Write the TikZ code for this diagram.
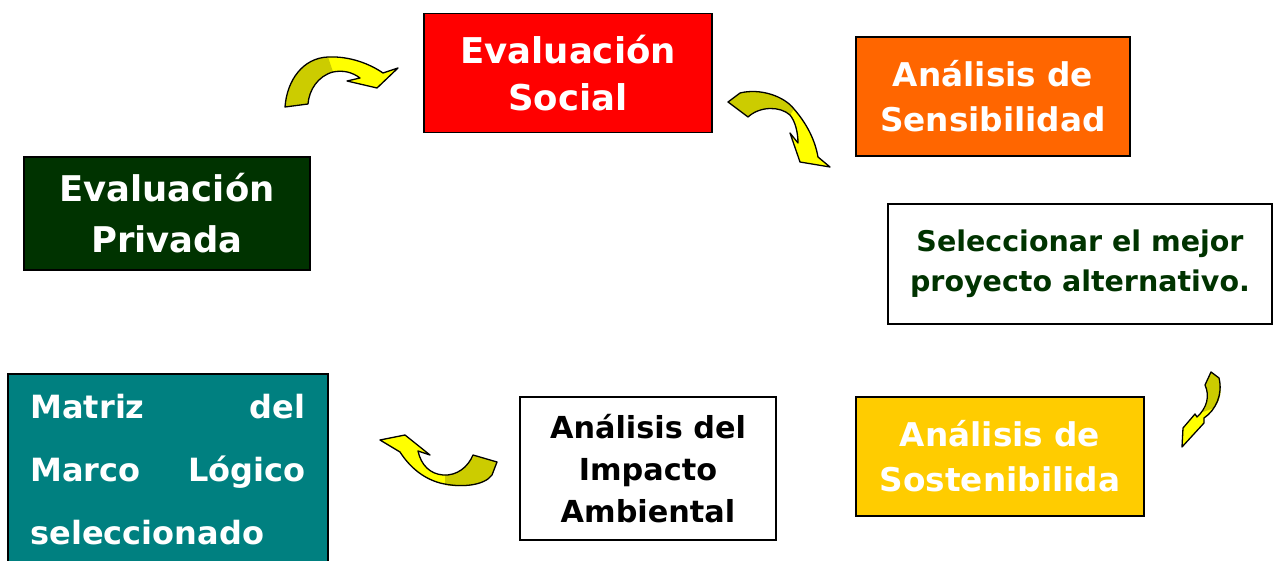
\documentclass[tikz,border=0pt]{standalone}
\usepackage{fontspec}
\setmainfont{DejaVu Sans}
\definecolor{evred}{HTML}{FF0000}
\definecolor{evorange}{HTML}{FF6600}
\definecolor{evdkgreen}{HTML}{003300}
\definecolor{evteal}{HTML}{008080}
\definecolor{evgold}{HTML}{FFCC00}
\definecolor{arrlight}{HTML}{FFFF00}
\definecolor{arrdark}{HTML}{CCCC00}
\newcommand\arrOneOut{(285,107) .. controls (287,80) and (303,58) .. (328,57) .. controls (350,56) and (370,64) .. (383,73) -- (398,68) -- (377,88) -- (347,81) -- (360,78) .. controls (352,72) and (343,70) .. (333,72) .. controls (318,76) and (309,90) .. (308,104) -- cycle}
\newcommand\arrOneDark{(285,107) .. controls (287,80) and (303,58) .. (328,57) -- (333,72) .. controls (318,76) and (309,90) .. (308,104) -- cycle}
\newcommand\arrTwoOut{(728,102) -- (740,93) .. controls (760,88) and (784,96) .. (794,109) .. controls (807,124) and (815,140) .. (818,157) -- (830,167) -- (800,162) -- (790,133) -- (798,143) .. controls (798,132) and (795,121) .. (790,115) .. controls (780,106) and (760,106) .. (748,117) -- cycle}
\newcommand\arrTwoDark{(728,102) -- (740,93) .. controls (760,88) and (784,96) .. (794,109) -- (790,115) .. controls (780,106) and (760,106) .. (748,117) -- cycle}
\newcommand\arrThreeOut{(1211,372) -- (1219,378) .. controls (1223,394) and (1216,410) .. (1204,418) -- (1204,423) -- (1182,447) -- (1183,428) -- (1195,414) -- (1197,417) .. controls (1207,408) and (1210,396) .. (1205,385) -- cycle}
\newcommand\arrThreeDark{(1211,372) -- (1219,378) .. controls (1223,394) and (1219,402) .. (1214,408) -- (1203,412) .. controls (1208,404) and (1209,394) .. (1205,385) -- cycle}
\newcommand\arrFourOut{(380,440) -- (405,435) -- (430,455) -- (418,451) .. controls (421,465) and (430,474) .. (443,475) .. controls (457,476) and (468,467) .. (473,455) -- (497,462) -- (492,475) .. controls (484,486) and (460,488) .. (440,483) .. controls (422,478) and (409,466) .. (400,452) -- cycle}
\newcommand\arrFourDark{(445,475) .. controls (458,475) and (468,467) .. (473,455) -- (497,462) -- (492,475) .. controls (484,486) and (462,488) .. (445,485) -- cycle}
\begin{document}
\begin{tikzpicture}[x=1pt,y=-1pt,
  box/.style={draw=black, line width=1.4pt, inner sep=0pt, align=center},
  arrfill/.style={fill=arrlight},
  arrshade/.style={fill=arrdark},
  arredge/.style={draw=black, line width=1.3pt, line join=round}]
\useasboundingbox (0,0) rectangle (1278,561);
\clip (0,0) rectangle (1278,561);
\fill[white] (0,0) rectangle (1278,561);

\node[box, fill=evred, text=white, minimum width=288, minimum height=119,
  font=\bfseries\fontsize{35.5}{47}\selectfont] (social) at (568,73) {Evaluación\\Social};
\node[box, fill=evorange, text=white, minimum width=274, minimum height=119,
  font=\bfseries\fontsize{32.7}{45}\selectfont] (sensib) at (993,96.5) {Análisis de\\Sensibilidad};
\node[box, fill=white, text=evdkgreen, minimum width=384, minimum height=120,
  font=\bfseries\fontsize{28.5}{40}\selectfont] (selec) at (1080,264) {Seleccionar el mejor\\proyecto alternativo.};
\node[box, fill=evdkgreen, text=white, minimum width=286, minimum height=113,
  font=\bfseries\fontsize{35.4}{51}\selectfont] (privada) at (167,213.5) {Evaluación\\Privada};
\node[box, fill=evteal, text=white, minimum width=320, minimum height=192, text width=275, align=left,
  font=\bfseries\fontsize{32}{63}\selectfont] (matriz) at (168,470) {Matriz\hfill del\\Marco\hfill Lógico\\seleccionado};
\node[box, fill=white, text=black, minimum width=256, minimum height=143,
  font=\bfseries\fontsize{30.3}{42}\selectfont] (impacto) at (648,468.5) {Análisis del\\Impacto\\Ambiental};
\node[box, fill=evgold, text=white, minimum width=288, minimum height=119,
  font=\bfseries\fontsize{32.7}{45}\selectfont] (sosten) at (1000,456.5) {Análisis de\\Sostenibilida};

\fill[arrfill] \arrOneOut; \fill[arrshade] \arrOneDark; \draw[arredge] \arrOneOut;
\fill[arrfill] \arrTwoOut; \fill[arrshade] \arrTwoDark; \draw[arredge] \arrTwoOut;
\fill[arrfill] \arrThreeOut; \fill[arrshade] \arrThreeDark; \draw[arredge] \arrThreeOut;
\fill[arrfill] \arrFourOut; \fill[arrshade] \arrFourDark; \draw[arredge] \arrFourOut;
\end{tikzpicture}
\end{document}
